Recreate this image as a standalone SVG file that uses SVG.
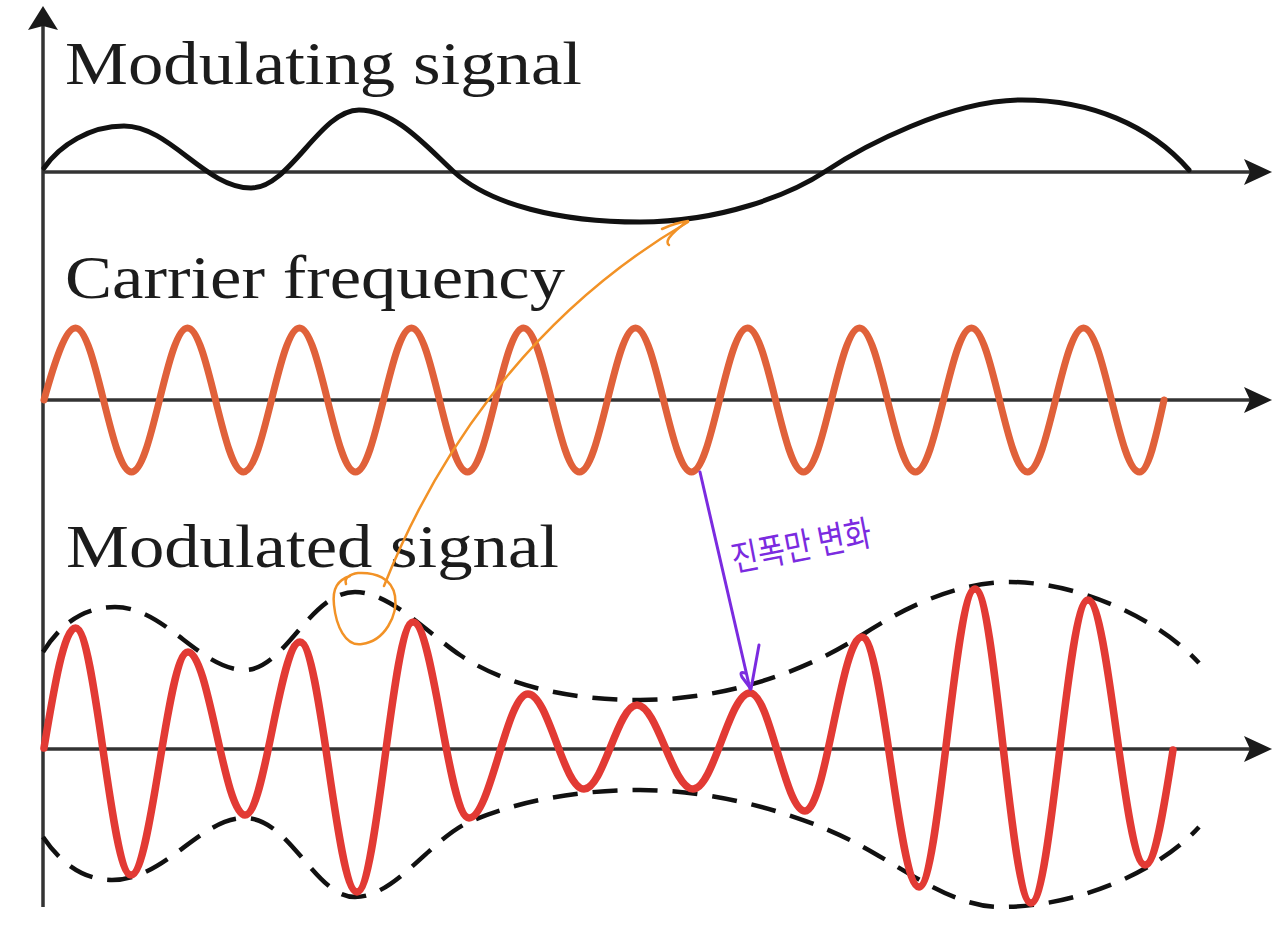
<svg xmlns="http://www.w3.org/2000/svg" width="1280" height="941" viewBox="0 0 1280 941">
<style>
.axis{fill:none;stroke:#333;stroke-width:3.5}
.head{fill:#1a1a1a}
.lbl{font-family:"Liberation Serif","Times New Roman",serif;font-size:61px;fill:#1c1c1c}
.mod{fill:none;stroke:#111;stroke-width:5;stroke-linecap:round}
.car{fill:none;stroke:#E0613A;stroke-width:7;stroke-linecap:round}
.am{fill:none;stroke:#E23A34;stroke-width:7.5;stroke-linecap:round}
.env{fill:none;stroke:#111;stroke-width:4.5;stroke-dasharray:25 15}
.ora{fill:none;stroke:#F29226;stroke-width:2.5;stroke-linecap:round;stroke-linejoin:round}
.pur{fill:none;stroke:#7B2BE0;stroke-width:3;stroke-linecap:round;stroke-linejoin:round}
.kor{font-family:"Noto Sans CJK KR","Noto Sans",sans-serif;font-size:36px;fill:#7B2BE0}
</style>
<rect width="1280" height="941" fill="#fff"/>
<g id="axes">
<line class="axis" x1="43" y1="26" x2="43" y2="907"/>
<polygon class="head" points="43,6 28,30 43,26 58,30"/>
<line class="axis" x1="43" y1="172" x2="1250" y2="172"/>
<polygon class="head" points="1272,172 1244,159 1250,172 1244,185"/>
<line class="axis" x1="43" y1="400" x2="1250" y2="400"/>
<polygon class="head" points="1272,400 1244,387 1250,400 1244,413"/>
<line class="axis" x1="43" y1="749" x2="1250" y2="749"/>
<polygon class="head" points="1272,749 1244,736 1250,749 1244,762"/>
</g>
<g id="labels">
<text class="lbl" x="65" y="84" textLength="517" lengthAdjust="spacingAndGlyphs">Modulating signal</text>
<text class="lbl" x="65" y="298" textLength="500" lengthAdjust="spacingAndGlyphs">Carrier frequency</text>
<text class="lbl" x="66" y="567" textLength="493" lengthAdjust="spacingAndGlyphs">Modulated signal</text>
</g>
<g id="modulating-signal">
<path class="mod" d="M44,168 C60,145 90,126 124,126 C170,126 205,188 251,188 C290,188 320,110 359,110 C395,110 425,145 453,171 C490,205 560,222 640,222 C720,222 790,195 826,171 C862,147 950,100 1022,100 C1090,100 1150,125 1189,170"/>
</g>
<g id="carrier">
<path class="car" d="M44,400 C54.3,363 65.5,328 75.5,328 C95.9,328 111.1,472 131.5,472 C151.9,472 167.1,328 187.5,328 C207.9,328 223.1,472 243.5,472 C263.9,472 279.1,328 299.5,328 C319.9,328 335.1,472 355.5,472 C375.9,472 391.1,328 411.5,328 C431.9,328 447.1,472 467.5,472 C487.9,472 503.1,328 523.5,328 C543.9,328 559.1,472 579.5,472 C599.9,472 615.1,328 635.5,328 C655.9,328 671.1,472 691.5,472 C711.9,472 727.1,328 747.5,328 C767.9,328 783.1,472 803.5,472 C823.9,472 839.1,328 859.5,328 C879.9,328 895.1,472 915.5,472 C935.9,472 951.1,328 971.5,328 C991.9,328 1007.1,472 1027.5,472 C1047.9,472 1063.1,328 1083.5,328 C1103.9,328 1119.1,472 1139.5,472 C1148.4,472 1156,436.9 1164,400"/>
</g>
<g id="envelope">
<path class="env" d="M43,652 C62,622 85,607 115,607 C165,607 200,670 245,670 C285,670 310,592 355,592 C390,592 430,635 460,655 C500,682 560,700 640,700 C720,700 800,675 862,635 C910,604 960,582 1010,582 C1080,582 1160,620 1199,663"/>
<path class="env" d="M43,837 C62,865 85,880 112,880 C165,880 200,818 245,818 C290,818 315,897 355,897 C395,897 430,840 469,822 C520,800 580,790 640,790 C720,790 800,815 850,840 C900,865 950,907 1000,907 C1080,907 1160,870 1199,827"/>
</g>
<g id="modulated-signal">
<path class="am" d="M44,748 C54.3,686.5 64.1,628 75.5,628 C95.7,628 110.8,875 131,875 C151.7,875 167.3,652 188,652 C208.7,652 224.3,815 245,815 C265,815 280,642 300,642 C320.7,642 336.3,892 357,892 C377.4,892 392.6,622 413,622 C433.4,622 448.6,818 469,818 C490.4,818 506.6,694 528,694 C548.4,694 563.6,789 584,789 C603.3,789 617.7,705 637,705 C657.4,705 672.6,789 693,789 C713.7,789 729.3,693 750,693 C770,693 785,811 805,811 C825.7,811 841.3,637 862,637 C882.7,637 898.3,887 919,887 C939.4,887 954.6,589 975,589 C995.4,589 1010.6,903 1031,903 C1051.7,903 1067.3,600 1088,600 C1108.7,600 1124.3,865 1145,865 C1155.1,865 1163.9,808.9 1173,750"/>
</g>
<g id="annotation-orange">
<path class="ora" d="M346,584 C344,578 350,574 358,573 C375,572 392,578 395,596 C398,615 385,641 362,644 C345,647 336,625 334,605 C332,588 338,580 350,576"/>
<path class="ora" d="M384,586 C430,470 520,320 688,222"/>
<path class="ora" d="M662,229 Q675,223 688,221 Q674,231 669,238 Q666,243 669,245"/>
</g>
<g id="annotation-purple">
<path class="pur" d="M700,472 L750,689"/>
<path class="pur" d="M759,645 L751,689 L742,677 Q739,671 745,673"/>
<text class="kor" x="734" y="572" transform="rotate(-11 734 572)" textLength="142" lengthAdjust="spacingAndGlyphs">진폭만 변화</text>
</g>
</svg>
